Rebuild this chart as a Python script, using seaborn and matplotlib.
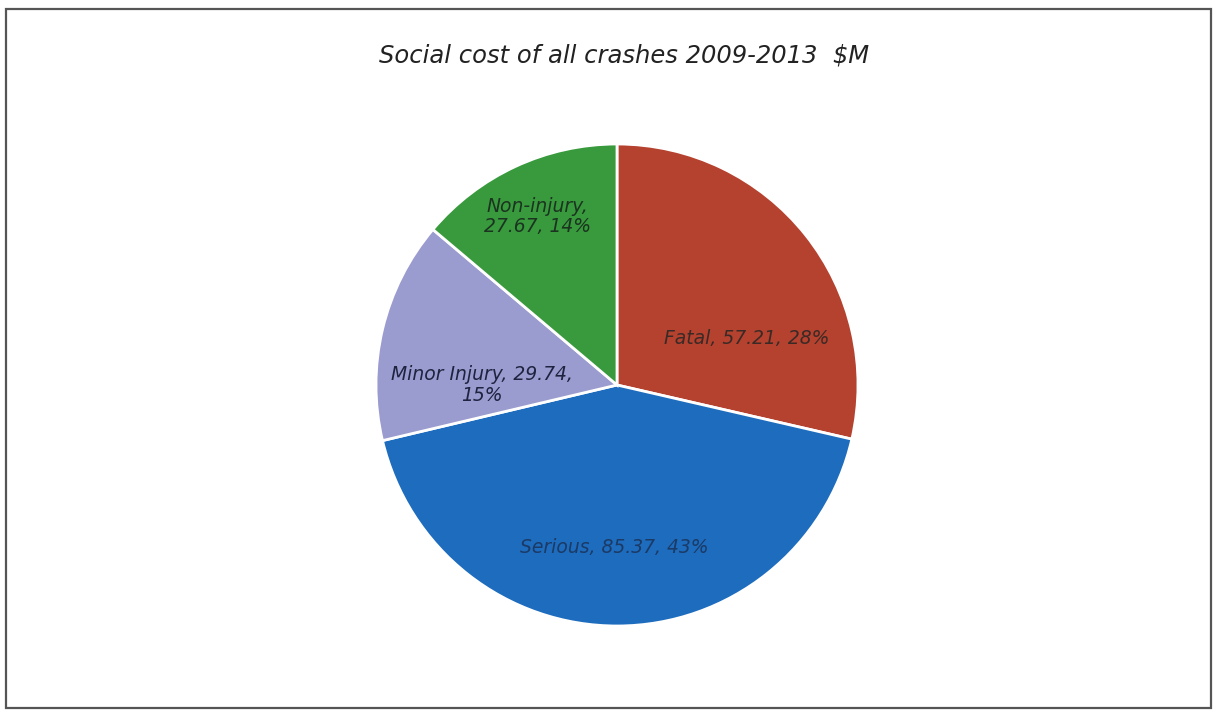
import matplotlib
matplotlib.use("Agg")
import matplotlib.pyplot as plt
from matplotlib.patches import Rectangle
import seaborn as sns

sns.set_theme(style="white")
plt.rcParams["font.family"] = ["DejaVu Sans"]

# Data
categories = ["Fatal", "Serious", "Minor Injury", "Non-injury"]
costs = [57.21, 85.37, 29.74, 27.67]
pct_labels = ["28%", "43%", "15%", "14%"]
colors = sns.color_palette(["#B5412F", "#1D6CBD", "#9A9BCE", "#389A3C"])

# Label anchor points (in pie-radius units) and line breaks
label_pos = [(0.54, 0.195), (-0.01, -0.675), (-0.56, 0.0), (-0.33, 0.70)]
label_fmt = ["{c}, {v:.2f}, {p}", "{c}, {v:.2f}, {p}",
             "{c}, {v:.2f},\n{p}", "{c},\n{v:.2f}, {p}"]
label_color = ["#3a2a26", "#1b3a66", "#1f2340", "#1b3320"]

W, H = 1213, 710
fig = plt.figure(figsize=(W / 100, H / 100), dpi=100)
fig.patch.set_facecolor("white")

# Pie axes centred on the chart area
cx, cy, r = 617, 385, 241
ax = fig.add_axes([(cx - r) / W, 1 - (cy + r) / H, 2 * r / W, 2 * r / H])
ax.pie(costs, colors=colors, startangle=90, counterclock=False, radius=1,
       wedgeprops=dict(edgecolor="white", linewidth=2))
ax.set_xlim(-1, 1)
ax.set_ylim(-1, 1)
ax.set_aspect("equal")
ax.axis("off")

for c, v, p, pos, fmt, col in zip(categories, costs, pct_labels, label_pos,
                                  label_fmt, label_color):
    ax.text(pos[0], pos[1], fmt.format(c=c, v=v, p=p), ha="center",
            va="center", fontsize=13.5, style="italic", color=col,
            linespacing=1.1)

fig.text(624 / W, 1 - 55 / H, "Social cost of all crashes 2009-2013  $M",
         ha="center", va="center", fontsize=17.5, style="italic", color="#222222")

# Outer frame
fig.patches.append(Rectangle((6 / W, 1 - 708 / H), (1211 - 6) / W, (708 - 9) / H,
                             transform=fig.transFigure, fill=False,
                             edgecolor="#555555", linewidth=1.6))

fig.savefig("out.png", dpi=100, facecolor="white")
